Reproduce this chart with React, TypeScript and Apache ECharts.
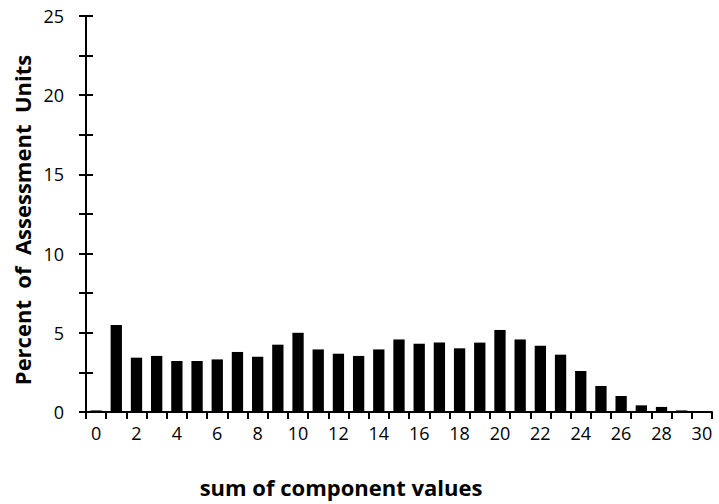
import React, { useEffect, useRef } from "react";
import * as echarts from "echarts";

const categories = Array.from({ length: 31 }, (_, i) => String(i));
const percentValues = [
  0.1, 5.5, 3.43, 3.54, 3.22, 3.22, 3.32, 3.79, 3.49, 4.25, 5.0, 3.95, 3.68,
  3.54, 3.95, 4.58, 4.31, 4.38, 4.02, 4.38, 5.18, 4.58, 4.19, 3.62, 2.59, 1.64,
  1.01, 0.42, 0.32, 0.1, 0.03,
];
const yMin = 0;
const yMax = 25;
const yStep = 2.5;
const xTitle = "sum of component values";
const yTitle = "Percent  of  Assessment  Units";

const FONT = "'Open Sans', sans-serif";

export default function App() {
  const ref = useRef<HTMLDivElement>(null);
  useEffect(() => {
    if (!ref.current) return;
    const chart = echarts.init(ref.current, null, { renderer: "svg" });
    const axisLine = { show: true, lineStyle: { color: "#000", width: 2 } };
    chart.setOption({
      animation: false,
      backgroundColor: "#fff",
      grid: {
        left: 86,
        right: 7,
        top: 16,
        bottom: 92,
        containLabel: false,
        outerBoundsMode: "none",
      },
      xAxis: {
        type: "category",
        data: categories,
        boundaryGap: true,
        axisLine,
        axisTick: {
          show: true,
          interval: 0,
          alignWithLabel: false,
          length: 7,
          lineStyle: { color: "#000", width: 2 },
        },
        axisLabel: {
          interval: 1,
          margin: 12,
          color: "#000",
          fontFamily: FONT,
          fontSize: 18,
        },
        name: xTitle,
        nameLocation: "middle",
        nameGap: 64,
        nameTextStyle: {
          color: "#000",
          fontFamily: FONT,
          fontSize: 22,
          fontWeight: "bold",
          padding: [0, 116, 0, 0],
        },
        splitLine: { show: false },
      },
      yAxis: [
        {
          type: "value",
          min: yMin,
          max: yMax,
          interval: yStep,
          position: "left",
          axisLine,
          axisTick: {
            show: true,
            inside: false,
            length: 7,
            lineStyle: { color: "#000", width: 2 },
          },
          axisLabel: {
            margin: 22,
            color: "#000",
            fontFamily: FONT,
            fontSize: 18,
            formatter: (v: number) => (v % 5 === 0 ? String(v) : ""),
          },
          splitLine: { show: false },
          name: yTitle,
          nameLocation: "middle",
          nameGap: 53,
          nameRotate: 90,
          nameTextStyle: {
            color: "#000",
            fontFamily: FONT,
            fontSize: 22,
            fontWeight: "bold",
            padding: [0, 12, 0, 0],
          },
        },
        {
          type: "value",
          min: yMin,
          max: yMax,
          interval: yStep,
          position: "left",
          offset: 0,
          axisLine,
          axisTick: {
            show: true,
            inside: true,
            length: 7,
            lineStyle: { color: "#000", width: 2 },
          },
          axisLabel: { show: false },
          splitLine: { show: false },
        },
      ],
      series: [
        {
          type: "bar",
          data: percentValues,
          yAxisIndex: 0,
          barWidth: "56%",
          itemStyle: { color: "#000" },
        },
      ],
    });
    return () => chart.dispose();
  }, []);
  return (
    <div
      ref={ref}
      style={{ position: "fixed", left: 0, top: 0, width: 719, height: 504 }}
    />
  );
}
